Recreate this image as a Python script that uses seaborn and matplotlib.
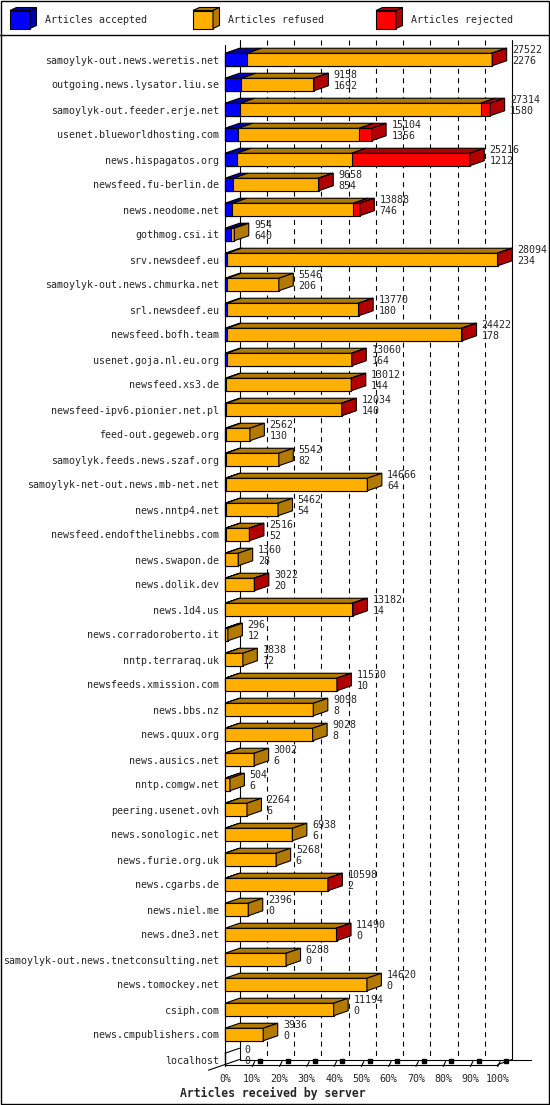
import numpy as np
import pandas as pd
import matplotlib
matplotlib.use("Agg")
import matplotlib.pyplot as plt
import seaborn as sns
from matplotlib.patches import Polygon, Rectangle
from matplotlib.lines import Line2D

# ---------------- data ----------------
hosts = [
    "samoylyk-out.news.weretis.net", "outgoing.news.lysator.liu.se",
    "samoylyk-out.feeder.erje.net", "usenet.blueworldhosting.com",
    "news.hispagatos.org", "newsfeed.fu-berlin.de", "news.neodome.net",
    "gothmog.csi.it", "srv.newsdeef.eu", "samoylyk-out.news.chmurka.net",
    "srl.newsdeef.eu", "newsfeed.bofh.team", "usenet.goja.nl.eu.org",
    "newsfeed.xs3.de", "newsfeed-ipv6.pionier.net.pl", "feed-out.gegeweb.org",
    "samoylyk.feeds.news.szaf.org", "samoylyk-net-out.news.mb-net.net",
    "news.nntp4.net", "newsfeed.endofthelinebbs.com", "news.swapon.de",
    "news.dolik.dev", "news.1d4.us", "news.corradoroberto.it",
    "nntp.terraraq.uk", "newsfeeds.xmission.com", "news.bbs.nz",
    "news.quux.org", "news.ausics.net", "nntp.comgw.net", "peering.usenet.ovh",
    "news.sonologic.net", "news.furie.org.uk", "news.cgarbs.de", "news.niel.me",
    "news.dne3.net", "samoylyk-out.news.tnetconsulting.net", "news.tomockey.net",
    "csiph.com", "news.cmpublishers.com", "localhost",
]
offered = [27522, 9158, 27314, 15104, 25216, 9658, 13888, 954, 28094, 5546,
           13770, 24422, 13060, 13012, 12034, 2562, 5542, 14666, 5462, 2516,
           1360, 3022, 13182, 296, 1838, 11530, 9098, 9028, 3002, 504, 2264,
           6938, 5268, 10598, 2396, 11490, 6288, 14620, 11194, 3936, 0]
accepted = [2276, 1692, 1580, 1356, 1212, 854, 746, 640, 234, 206,
            180, 178, 164, 144, 140, 130, 82, 64, 54, 52,
            28, 20, 14, 12, 12, 10, 8, 8, 6, 6, 6,
            6, 6, 2, 0, 0, 0, 0, 0, 0, 0]
rejected = [40, 50, 972, 1268, 12163, 46, 670, 0, 30, 0,
            40, 60, 20, 30, 20, 0, 0, 0, 0, 60,
            0, 40, 90, 0, 0, 20, 0, 0, 0, 0, 0,
            0, 0, 20, 0, 20, 0, 0, 0, 0, 0]
refused = [25206, 7416, 24762, 12480, 11841, 8758, 12472, 314, 27830, 5340,
           13550, 24184, 12876, 12838, 11874, 2432, 5460, 14602, 5408, 2404,
           1332, 2962, 13078, 284, 1826, 11500, 9090, 9020, 2996, 498, 2258,
           6932, 5262, 10576, 2396, 11470, 6288, 14620, 11194, 3936, 0]
tick_labels = ["0%", "10%", "20%", "30%", "40%", "50%", "60%", "70%", "80%", "90%", "100%"]
legend_labels = ["Articles accepted", "Articles refused", "Articles rejected"]

# ---------------- style ----------------
C_ACC, D_ACC = "#0000FF", "#0000B2"
C_REF, D_REF = "#FFAF00", "#B27A00"
C_REJ, D_REJ = "#FF0000", "#B20000"

sns.set_style("white")
plt.rcParams["font.family"] = ["DejaVu Sans Mono", "DejaVu Sans"]

W, H = 550, 1105
fig = plt.figure(figsize=(W / 100, H / 100), dpi=100)

PX = 2.727          # pixels per percent
X0 = 225            # pixel position of 0%
L, R, T, B = 222, 545, 36, 1072
ROW0, ROWH = 59.5, 25.0
ax = fig.add_axes([L / W, 1 - B / H, (R - L) / W, (B - T) / H])

mx = max(offered)
df = pd.DataFrame({
    "host": hosts,
    "acc": np.array(accepted) / mx * 100,
    "accref": (np.array(accepted) + np.array(refused)) / mx * 100,
    "tot": (np.array(accepted) + np.array(refused) + np.array(rejected)) / mx * 100,
})

LW = 0.8
BW = 0.5
kw = dict(y="host", order=hosts, orient="h", width=BW, edgecolor="black",
          linewidth=LW, saturation=1, errorbar=None, ax=ax)
sns.barplot(data=df, x="tot", color=C_REJ, **kw)
sns.barplot(data=df, x="accref", color=C_REF, **kw)
sns.barplot(data=df, x="acc", color=C_ACC, **kw)

DX = 14.5 / PX
DY = 5.0 / ROWH

# 3D top faces and side faces
for i, row in df.iterrows():
    yt = i - BW / 2
    yb = i + BW / 2
    segs = [(0, row["acc"], D_ACC), (row["acc"], row["accref"], D_REF),
            (row["accref"], row["tot"], D_REJ)]
    last = None
    for x0, x1, dc in segs:
        if x1 - x0 > 1e-9:
            ax.add_patch(Polygon([(x0, yt), (x1, yt), (x1 + DX, yt - DY), (x0 + DX, yt - DY)],
                                 closed=True, facecolor=dc, edgecolor="black", lw=LW,
                                 zorder=2, clip_on=False))
            last = dc
    if last is None:
        ax.plot([0, DX], [yt, yt - DY], color="black", lw=LW, zorder=2, clip_on=False)
    else:
        x1 = row["tot"]
        ax.add_patch(Polygon([(x1, yt), (x1, yb), (x1 + DX, yb - DY), (x1 + DX, yt - DY)],
                             closed=True, facecolor=last, edgecolor="black", lw=LW,
                             zorder=2, clip_on=False))
    ax.text(row["tot"] + DX + 1.9, i - 0.38, str(offered[i]), fontsize=7.2,
            va="center", ha="left", zorder=3)
    ax.text(row["tot"] + DX + 1.9, i + 0.07, str(accepted[i]), fontsize=7.2,
            va="center", ha="left", zorder=3)

# walls & grid
ytop_back, ytop_front = -0.78, -0.58
yf_front, yf_back = 40.2, 40.0
lkw = dict(color="black", lw=LW, clip_on=False)
ax.plot([0, 0], [ytop_front, yf_front], zorder=0.5, **lkw)
ax.plot([DX, DX], [ytop_back, yf_back], zorder=0.5, **lkw)
ax.plot([100 + DX, 100 + DX], [ytop_back, yf_back], zorder=0.5, **lkw)
for k in range(10, 100, 10):
    ax.plot([k + DX, k + DX], [ytop_back, yf_back], ls=(0, (4.5, 4)), zorder=0.5, **lkw)

# floor
ax.plot([0, 100], [yf_front, yf_front], zorder=0.6, **lkw)
ax.plot([DX, 100 + DX + 7.0], [yf_back, yf_back], zorder=0.6, **lkw)
ax.plot([100, 100 + DX], [yf_front, yf_back], zorder=0.6, **lkw)
ax.plot([DX - 31 / PX, DX], [yf_back + DY * 31 / 14.5, yf_back], zorder=0.6, **lkw)
for k in range(10, 101, 10):
    ax.plot([k, k + 0.9], [yf_front + 0.08, yf_front - 0.12], zorder=0.7, **lkw)
    ax.plot([k + 3.0], [yf_back + 0.06], marker="s", ms=2.2, color="black",
            clip_on=False, zorder=0.7)

ax.set_xlim((L - X0) / PX, (R - X0) / PX)
ax.set_ylim((B - ROW0) / ROWH, (T - ROW0) / ROWH)
for s in ax.spines.values():
    s.set_visible(False)
ax.set_xticks(range(0, 101, 10))
ax.set_xticklabels(tick_labels)
ax.tick_params(axis="x", length=0, pad=1.5, labelsize=7.2)
ax.tick_params(axis="y", length=0, pad=2, labelsize=7.2)
ax.set_ylabel("")
ax.set_xlabel("Articles received by server", fontsize=8.3, fontweight="bold")
ax.xaxis.set_label_coords((273 - L) / (R - L), -(1087 - B) / (B - T))
ax.grid(False)

# legend area
lax = fig.add_axes([0, 1 - 35 / H, 1, 35 / H])
lax.set_xlim(0, W)
lax.set_ylim(35, 0)
lax.axis("off")
for x0, c, d, lab in [(10, C_ACC, D_ACC, legend_labels[0]),
                      (193, C_REF, D_REF, legend_labels[1]),
                      (376, C_REJ, D_REJ, legend_labels[2])]:
    w, h, ox, oy = 20, 18, 6.5, 3
    y0 = 10.5
    lax.add_patch(Rectangle((x0, y0), w, h, facecolor=c, edgecolor="black", lw=LW))
    lax.add_patch(Polygon([(x0, y0), (x0 + w, y0), (x0 + w + ox, y0 - oy), (x0 + ox, y0 - oy)],
                          closed=True, facecolor=d, edgecolor="black", lw=LW))
    lax.add_patch(Polygon([(x0 + w, y0), (x0 + w, y0 + h), (x0 + w + ox, y0 + h - oy), (x0 + w + ox, y0 - oy)],
                          closed=True, facecolor=d, edgecolor="black", lw=LW))
    lax.text(x0 + 35, 20, lab, fontsize=7.2, va="center", ha="left")

# separator and border
fig.add_artist(Line2D([0, 1], [1 - 35 / H, 1 - 35 / H], color="black", lw=1.0))
fig.add_artist(Rectangle((0.6 / W, 0.6 / H), (W - 1.2) / W, (H - 1.2) / H,
                         transform=fig.transFigure, fill=False, edgecolor="black", lw=1.0))

fig.savefig("out.png", dpi=100)
